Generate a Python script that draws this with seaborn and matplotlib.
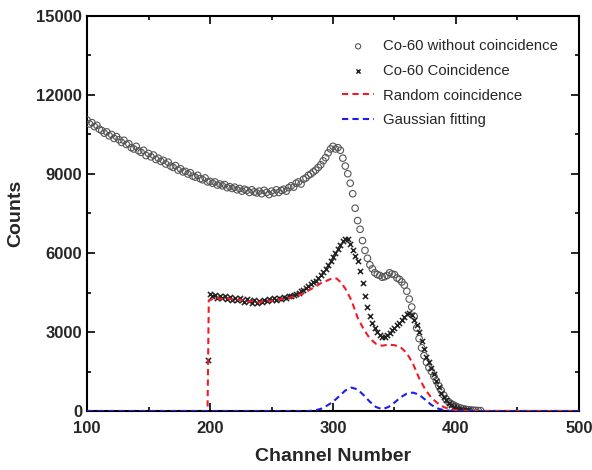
import numpy as np
import pandas as pd
import matplotlib
matplotlib.use("Agg")
import matplotlib.pyplot as plt
import seaborn as sns

# Co-60 without coincidence, channels 100..420 every 2
raw_counts = [
    11050, 10900, 10950, 10800, 10850, 10700, 10650, 10550, 10600, 10450,
    10500, 10350, 10420, 10300, 10200, 10280, 10120, 10150, 10000, 9950,
    10050, 9880, 9820, 9900, 9700, 9780, 9650, 9720, 9550, 9600,
    9480, 9520, 9380, 9450, 9300, 9250, 9320, 9150, 9200, 9080,
    9100, 9000, 9050, 8920, 8880, 8950, 8820, 8780, 8850, 8700,
    8720, 8650, 8700, 8580, 8620, 8550, 8600, 8480, 8520, 8450,
    8500, 8400, 8450, 8350, 8420, 8380, 8300, 8400, 8320, 8280,
    8350, 8250, 8380, 8300, 8220, 8350, 8280, 8400, 8300, 8380,
    8420, 8350, 8480, 8550, 8500, 8650, 8700, 8620, 8800, 8850,
    8950, 9000, 9080, 9150, 9250, 9350, 9500, 9620, 9800, 9950,
    10050, 9950, 10000, 9900, 9600, 9300, 9010, 8650, 8250, 7700,
    7230, 6900, 6470, 6100, 5800, 5550, 5400, 5250, 5180, 5150,
    5080, 5100, 5150, 5250, 5200, 5180, 5050, 5000, 4900, 4780,
    4550, 4250, 3950, 3600, 3150, 2750, 2400, 2100, 1850, 1650,
    1500, 1320, 1150, 960, 780, 600, 450, 350, 280, 230,
    180, 140, 110, 85, 65, 50, 40, 30, 25, 20,
    15,
]
raw_channels = np.arange(100, 421, 2)

# Co-60 coincidence, channels 198..410 every 2
coin_counts = [
    1950, 4450, 4350, 4400, 4300, 4380, 4280, 4350, 4250, 4320,
    4200, 4280, 4230, 4300, 4200, 4150, 4250, 4180, 4120, 4200,
    4100, 4180, 4150, 4220, 4180, 4250, 4200, 4280, 4220, 4300,
    4260, 4320, 4300, 4350, 4380, 4400, 4450, 4480, 4550, 4600,
    4680, 4750, 4820, 4880, 4950, 5050, 5150, 5280, 5400, 5550,
    5700, 5850, 6000, 6150, 6300, 6450, 6550, 6550, 6350, 6100,
    5900, 5700, 5300, 4850, 4350, 3950, 3600, 3350, 3150, 3000,
    2880, 2800, 2820, 2900, 2980, 3080, 3150, 3250, 3350, 3450,
    3580, 3680, 3730, 3650, 3450, 3250, 3000, 2650, 2350, 2050,
    1850, 1650, 1400, 1150, 900, 700, 530, 420, 320, 230,
    170, 120, 90, 70, 50, 40, 30,
]
coin_channels = np.arange(198, 411, 2)

# Random coincidence
rand_channels = [100, 198, 199, 205, 210, 215, 220, 225, 230, 235, 240, 245,
                 250, 255, 260, 265, 270, 275, 280, 285, 290, 295, 300, 303,
                 306, 310, 315, 320, 325, 330, 335, 340, 345, 350, 355, 360,
                 365, 370, 375, 380, 385, 390, 395, 400, 410, 500]
rand_counts = [0, 0, 4200, 4300, 4250, 4280, 4200, 4230, 4150, 4180, 4120, 4200,
               4180, 4230, 4260, 4300, 4380, 4450, 4580, 4700, 4850, 4950, 5050, 5030,
               4900, 4650, 4200, 3550, 3100, 2750, 2550, 2480, 2520, 2500, 2420, 2200,
               1800, 1250, 820, 500, 300, 150, 70, 30, 5, 0]

# Gaussian fitting
gauss_channels = [100, 280, 285, 290, 295, 300, 305, 310, 315, 320, 325, 330,
                  335, 340, 345, 350, 355, 360, 365, 370, 375, 380, 385, 390,
                  395, 400, 500]
gauss_counts = [0, 0, 20, 80, 200, 350, 560, 780, 890, 820, 600, 350,
                150, 70, 150, 320, 520, 660, 700, 620, 430, 230, 100, 35,
                10, 0, 0]

df_raw = pd.DataFrame({"ch": raw_channels, "counts": raw_counts})
df_coin = pd.DataFrame({"ch": coin_channels, "counts": coin_counts})
df_rand = pd.DataFrame({"ch": rand_channels, "counts": rand_counts})
df_gauss = pd.DataFrame({"ch": gauss_channels, "counts": gauss_counts})

sns.set_style("ticks")
plt.rcParams["font.family"] = ["Liberation Sans", "DejaVu Sans"]

fig = plt.figure(figsize=(5.92, 4.70), dpi=100)
ax = fig.add_axes([0.147, 0.1255, 0.831, 0.8405])

sns.scatterplot(data=df_raw, x="ch", y="counts", ax=ax, marker="o",
                s=22, facecolor="none", edgecolor="#555555", linewidth=0.8,
                label="Co-60 without coincidence", zorder=3)
sns.scatterplot(data=df_coin, x="ch", y="counts", ax=ax, marker="x",
                s=14, color="#222222", linewidth=1.1,
                label="Co-60 Coincidence", zorder=4)
sns.lineplot(data=df_rand, x="ch", y="counts", ax=ax, color="#ee1c24",
             linewidth=1.5, linestyle=(0, (3, 2)), sort=False,
             label="Random coincidence", zorder=5)
sns.lineplot(data=df_gauss, x="ch", y="counts", ax=ax, color="#1c1cee",
             linewidth=1.5, linestyle=(0, (3, 2)), sort=False,
             label="Gaussian fitting", zorder=5)

ax.set_xlim(100, 500)
ax.set_ylim(0, 15000)
ax.set_xticks([100, 200, 300, 400, 500])
ax.set_xticks([150, 250, 350, 450], minor=True)
ax.set_yticks([0, 3000, 6000, 9000, 12000, 15000])
ax.set_yticks([1500, 4500, 7500, 10500, 13500], minor=True)
ax.tick_params(which="both", direction="in", top=True, right=True,
               width=1.2, color="black")
ax.tick_params(which="major", length=6, labelsize=12)
ax.tick_params(which="minor", length=3)
ax.tick_params(axis="x", which="major", pad=7)
for lab in ax.get_xticklabels() + ax.get_yticklabels():
    lab.set_fontweight("bold")
for sp in ax.spines.values():
    sp.set_linewidth(1.5)
    sp.set_color("black")

ax.set_xlabel("Channel Number", fontsize=14, fontweight="bold", labelpad=9)
ax.set_ylabel("Counts", fontsize=14, fontweight="bold", labelpad=9)

ax.legend(loc="upper right", frameon=False, fontsize=10.7, handlelength=2.2,
          handletextpad=0.6, labelspacing=0.72, bbox_to_anchor=(0.985, 0.975),
          markerscale=0.8)

fig.savefig("out.png", dpi=100)
